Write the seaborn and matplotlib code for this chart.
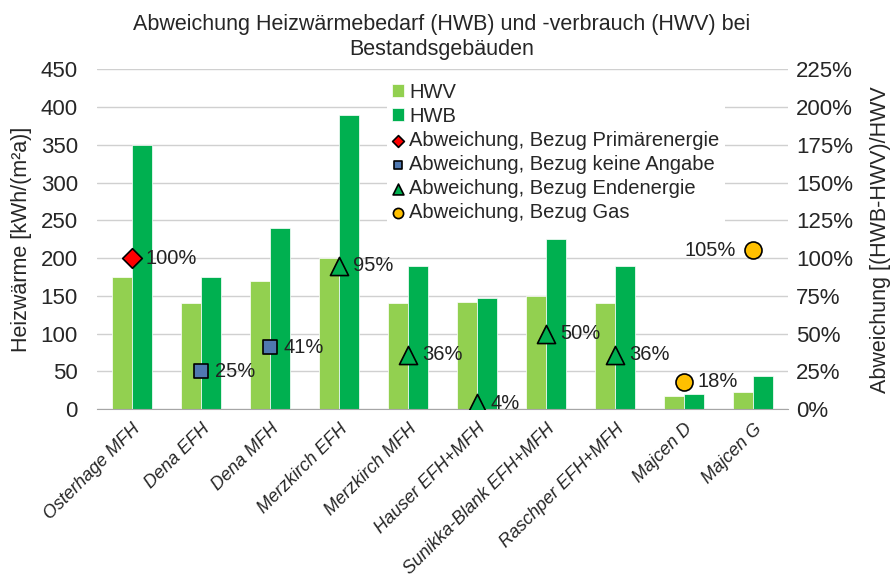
import numpy as np
import pandas as pd
import matplotlib
matplotlib.use("Agg")
import matplotlib.pyplot as plt
import seaborn as sns
from matplotlib.ticker import FuncFormatter

categories = ["Osterhage MFH", "Dena EFH", "Dena MFH", "Merzkirch EFH", "Merzkirch MFH",
              "Hauser EFH+MFH", "Sunikka-Blank EFH+MFH", "Raschper EFH+MFH", "Majcen D", "Majcen G"]
hwv = [175, 140, 170, 200, 140, 142, 150, 140, 17, 22]
hwb = [350, 175, 240, 390, 190, 147, 225, 190, 20, 44]
abweichung = [100, 25, 41, 95, 36, 4, 50, 36, 18, 105]
bezug = ["Primärenergie", "keine Angabe", "keine Angabe", "Endenergie", "Endenergie",
         "Endenergie", "Endenergie", "Endenergie", "Gas", "Gas"]

sns.set_style("white")
narrow = ["Liberation Sans Narrow", "Liberation Sans", "DejaVu Sans"]
plt.rcParams["font.family"] = ["Liberation Sans", "DejaVu Sans"]

df = pd.DataFrame({"Kategorie": categories * 2,
                   "Wert": hwv + hwb,
                   "Serie": ["HWV"] * len(categories) + ["HWB"] * len(categories)})

fig = plt.figure(figsize=(8.92, 5.77), dpi=100)
ax = fig.add_axes([0.109, 0.291, 0.774, 0.589])

sns.barplot(data=df, x="Kategorie", y="Wert", hue="Serie",
            palette={"HWV": "#92D050", "HWB": "#00B050"}, width=0.58,
            saturation=1, ax=ax, legend=True, edgecolor="white", linewidth=0.5)

ax.set_ylim(0, 450)
ax.set_yticks(np.arange(0, 451, 50))
ax.set_xlim(-0.5, len(categories) - 0.5)
ax.yaxis.grid(True, color="#D0D0D0", linewidth=1)
ax.set_axisbelow(True)
for s in ["top", "right", "left"]:
    ax.spines[s].set_visible(False)
ax.spines["bottom"].set_color("#A6A6A6")
ax.set_xlabel("")
ax.set_ylabel("Heizwärme [kWh/(m²a)]", fontsize=15.5, family=narrow, labelpad=6)
ax.set_xticks(range(len(categories)))
ax.set_xticklabels(categories, rotation=45, ha="right", rotation_mode="anchor",
                   fontsize=13, style="italic", family=narrow)
ax.tick_params(axis="x", length=0, pad=8)
ax.tick_params(axis="y", length=0, labelsize=16, pad=14)
for lab in ax.get_yticklabels():
    lab.set_family(narrow)
# tick marks between categories
ax.set_xticks(np.arange(-0.5, len(categories), 1), minor=True)
ax.tick_params(axis="x", which="minor", length=6, color="#A6A6A6")

ax2 = ax.twinx()
ax2.set_ylim(0, 225)
ax2.set_yticks(np.arange(0, 226, 25))
ax2.yaxis.set_major_formatter(FuncFormatter(lambda v, p: f"{v:.0f}%"))
ax2.tick_params(axis="y", length=0, labelsize=16, pad=6)
for lab in ax2.get_yticklabels():
    lab.set_family(narrow)
for s in ax2.spines.values():
    s.set_visible(False)
ax2.set_ylabel("Abweichung [(HWB-HWV)/HWV", fontsize=15.5, family=narrow, labelpad=12)

styles = {
    "Primärenergie": dict(marker="D", color="#FF0000", s=100),
    "keine Angabe": dict(marker="s", color="#4F78B0", s=110),
    "Endenergie": dict(marker="^", color="#00B050", s=170),
    "Gas": dict(marker="o", color="#FFC000", s=150),
}
pts = pd.DataFrame({"x": np.arange(len(categories)), "y": abweichung, "Bezug": bezug})
handles = []
for key in ["Primärenergie", "keine Angabe", "Endenergie", "Gas"]:
    sub = pts[pts["Bezug"] == key]
    st = styles[key]
    h = ax2.scatter(sub["x"], sub["y"], marker=st["marker"], c=st["color"], s=st["s"],
                    edgecolors="black", linewidths=1.2, zorder=5,
                    label=f"Abweichung, Bezug {key}")
    handles.append(h)

for x, y in zip(pts["x"], pts["y"]):
    if x == len(categories) - 1:
        ax2.text(x - 0.25, y, f"{y}%", ha="right", va="center", fontsize=14.5, color="#222222")
    else:
        ax2.text(x + 0.2, y, f"{y}%", ha="left", va="center", fontsize=14.5, color="#222222")

bar_handles, bar_labels = ax.get_legend_handles_labels()
ax.get_legend().remove()
order = [bar_labels.index("HWV"), bar_labels.index("HWB")]
leg = ax2.legend([bar_handles[i] for i in order] + handles,
                 [bar_labels[i] for i in order] + [h.get_label() for h in handles],
                 loc="upper left", bbox_to_anchor=(0.42, 0.975), fontsize=14.5,
                 frameon=True, facecolor="white", edgecolor="none", framealpha=1,
                 handlelength=0.6, handleheight=0.6, handletextpad=0.25,
                 labelspacing=0.25, borderpad=0.25, borderaxespad=0, markerscale=0.6)

fig.suptitle("Abweichung Heizwärmebedarf (HWB) und -verbrauch (HWV) bei\nBestandsgebäuden",
             fontsize=15.5, family=narrow, y=0.975, x=0.495, linespacing=1.25)

fig.savefig("out.png", dpi=100)
